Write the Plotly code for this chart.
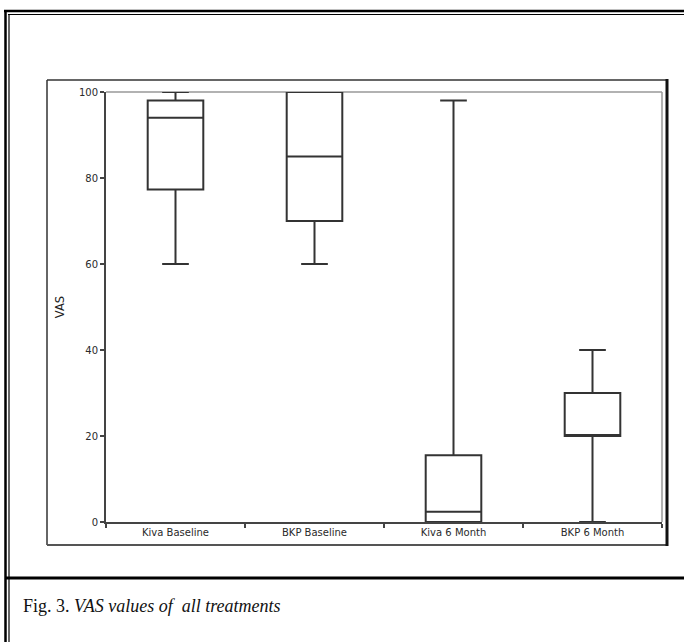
import plotly.graph_objects as go

categories = ["Kiva Baseline", "BKP Baseline", "Kiva 6 Month", "BKP 6 Month"]
lower_whisker = [60, 60, 0, 0]
q1_values = [77.3, 70, 0, 20]
median_values = [94, 85, 2.4, 20]
q3_values = [98, 100, 15.5, 30]
upper_whisker = [100, 100, 98, 40]
y_ticks = [0, 20, 40, 60, 80, 100]

W, H = 684, 642
L, R, T, B = 106, 662, 92, 522

fig = go.Figure()
for i, cat in enumerate(categories):
    fig.add_trace(go.Box(
        x=[cat],
        q1=[q1_values[i]], median=[median_values[i]], q3=[q3_values[i]],
        lowerfence=[lower_whisker[i]], upperfence=[upper_whisker[i]],
        fillcolor="white",
        line=dict(color="#333333", width=2),
        width=0.4, whiskerwidth=0.48,
        boxpoints=False, showlegend=False, hoverinfo="skip",
    ))

# page-pixel -> paper (plot-area) coordinates
def px(x):
    return (x - L) / (R - L)

def py(y):
    return (B - y) / (B - T)

def hline(x0, x1, y, color, width):
    return dict(type="line", xref="paper", yref="paper", x0=px(x0), x1=px(x1), y0=py(y), y1=py(y),
                line=dict(color=color, width=width), layer="above")

def vline(x, y0, y1, color, width):
    return dict(type="line", xref="paper", yref="paper", x0=px(x), x1=px(x), y0=py(y0), y1=py(y1),
                line=dict(color=color, width=width), layer="above")

shapes = [
    # outer frame (double lines)
    hline(4, W + 5, 11, "black", 2.5),
    hline(8, W + 5, 14.5, "black", 1.2),
    vline(5.5, 10, H + 5, "black", 2.5),
    vline(9, 14, H + 5, "black", 1.2),
    hline(5, W + 5, 578, "black", 3),
    # inner chart-image border
    hline(47, 667, 80, "#333333", 1.5),
    vline(47, 80, 545, "#333333", 1.5),
    hline(47, 668, 545, "#555555", 2),
    vline(667, 79, 546, "#111111", 3),
]
# light frame top/right of plot area
shapes += [
    dict(type="line", xref="paper", yref="paper", x0=0, x1=1, y0=1, y1=1, line=dict(color="#999999", width=1.5), layer="below"),
    dict(type="line", xref="paper", yref="paper", x0=1, x1=1, y0=0, y1=1, line=dict(color="#999999", width=1.5), layer="below"),
]

fig.update_layout(
    width=W, height=H,
    margin=dict(l=L, r=W - R, t=T, b=H - B),
    paper_bgcolor="white", plot_bgcolor="white",
    shapes=shapes,
    xaxis=dict(
        type="category", range=[-0.5, 3.5], tickson="boundaries",
        showgrid=False, zeroline=False,
        showline=True, linecolor="#444444", linewidth=2,
        ticks="outside", ticklen=4, tickwidth=1.5, tickcolor="#444444",
        tickfont=dict(family="DejaVu Sans", size=10, color="#2a2a2a"),
    ),
    yaxis=dict(
        range=[0, 100], tickvals=y_ticks,
        showgrid=False, zeroline=False,
        showline=True, linecolor="#444444", linewidth=2,
        ticks="outside", ticklen=4, tickwidth=1.5, tickcolor="#444444",
        tickfont=dict(family="DejaVu Sans", size=10, color="#2a2a2a"),
        title=dict(text="VAS", font=dict(family="DejaVu Sans", size=11.5, color="#222222"), standoff=12),
    ),
    annotations=[dict(
        xref="paper", yref="paper", x=px(21), y=py(606), xanchor="left", yanchor="middle",
        text="Fig. 3. <i>VAS values of  all treatments</i>", showarrow=False,
        font=dict(family="Liberation Serif", size=18, color="#111111"),
    )],
)

fig.write_html("out.html", config={"displayModeBar": False},
               post_script="document.body.style.margin='0';")
